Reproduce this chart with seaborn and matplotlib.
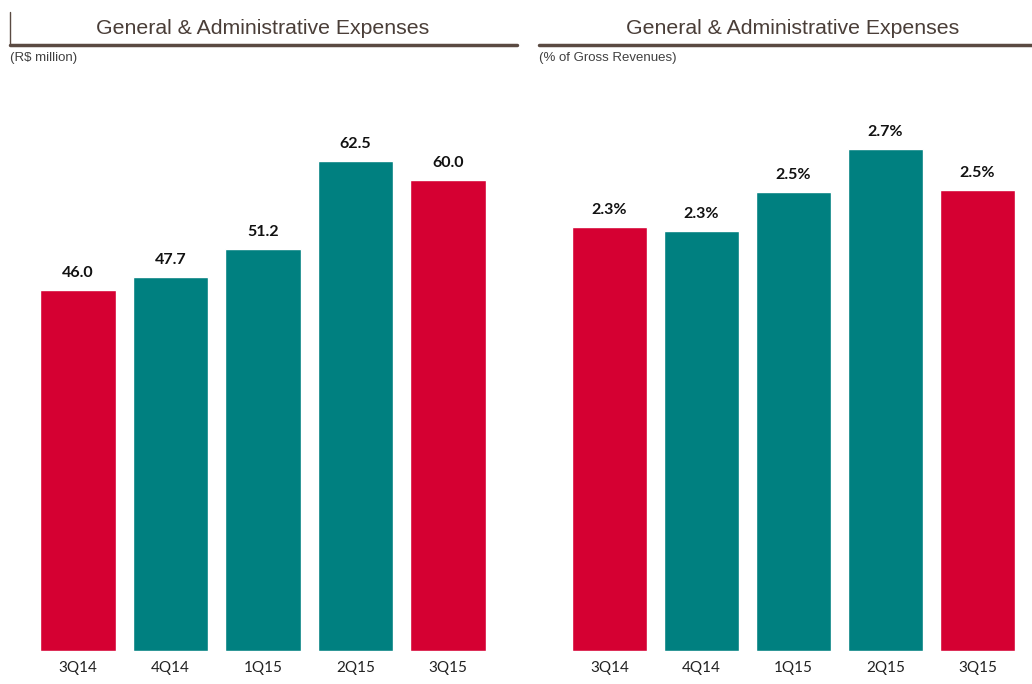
import matplotlib
matplotlib.use("Agg")
import matplotlib.pyplot as plt
from matplotlib.lines import Line2D
import seaborn as sns
import pandas as pd

quarters = ["3Q14", "4Q14", "1Q15", "2Q15", "3Q15"]
ga_million = [46.0, 47.7, 51.2, 62.5, 60.0]
ga_pct = [2.28, 2.26, 2.47, 2.70, 2.48]
bar_colors = ["#D50032", "#008080", "#008080", "#008080", "#D50032"]
titles = ["General & Administrative Expenses", "General & Administrative Expenses"]
subtitles = ["(R$ million)", "(% of Gross Revenues)"]

sns.set_theme(style="white")
plt.rcParams["font.family"] = ["Lato", "DejaVu Sans"]

W, H = 1032, 684
fig = plt.figure(figsize=(W / 100, H / 100), dpi=100)

def px_box(x0, x1, ytop, ybot):
    return [x0 / W, 1 - ybot / H, (x1 - x0) / W, (ybot - ytop) / H]

ax1 = fig.add_axes(px_box(31.75, 494.25, 75, 651))
ax2 = fig.add_axes(px_box(563.5, 1023.5, 75, 651))

df1 = pd.DataFrame({"q": quarters, "v": ga_million})
df2 = pd.DataFrame({"q": quarters, "v": ga_pct})

for ax, df, top, fmt in [(ax1, df1, 73.4, "{:.1f}"), (ax2, df2, 3.098, "{:.1f}%")]:
    sns.barplot(data=df, x="q", y="v", hue="q", palette=bar_colors, legend=False,
                width=0.82, saturation=1, ax=ax)
    ax.set_ylim(0, top)
    ax.set_xlim(-0.5, 4.5)
    for c in ax.containers:
        labels = [fmt.format(b.get_height()) for b in c]
        ax.bar_label(c, labels=labels, padding=7, fontsize=11.5, fontweight="bold", color="#111111")
    ax.set_xlabel("")
    ax.set_ylabel("")
    ax.set_yticks([])
    ax.tick_params(axis="x", length=0, pad=7, labelsize=11, labelcolor="#222222")
    for s in ax.spines.values():
        s.set_visible(False)

line_color = "#5a4a42"
title_kw = dict(ha="center", va="center", fontsize=15.3, color="#4a3e38", family=["Liberation Sans"])
sub_kw = dict(ha="left", va="center", fontsize=9.5, color="#404040", family=["Liberation Sans"])
# left header
fig.add_artist(Line2D([10 / W, 517 / W], [1 - 45 / H, 1 - 45 / H], color=line_color, lw=2.5))
fig.add_artist(Line2D([10 / W, 10 / W], [1 - 12 / H, 1 - 45 / H], color=line_color, lw=1))
fig.text(263 / W, 1 - 28 / H, titles[0], **title_kw)
fig.text(10 / W, 1 - 58 / H, subtitles[0], **sub_kw)
# right header
fig.add_artist(Line2D([539 / W, 1032 / W], [1 - 45 / H, 1 - 45 / H], color=line_color, lw=2.5))
fig.text(793 / W, 1 - 28 / H, titles[1], **title_kw)
fig.text(539 / W, 1 - 58 / H, subtitles[1], **sub_kw)

fig.savefig("out.png", dpi=100)
